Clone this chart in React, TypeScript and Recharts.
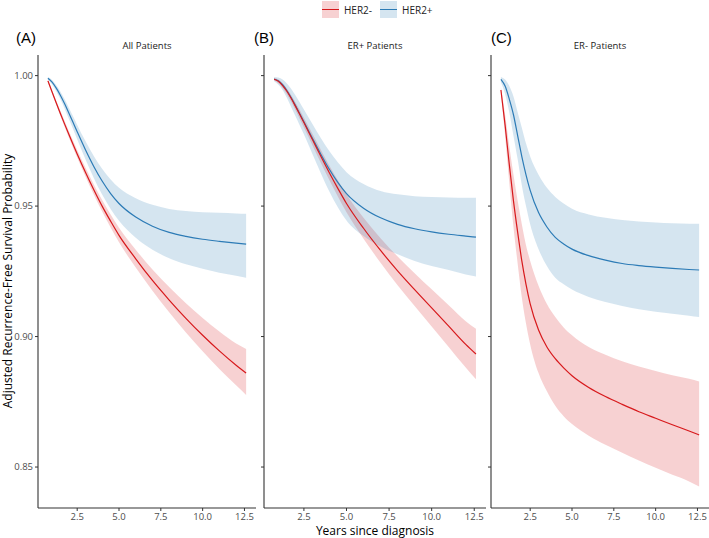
import React from "react";
import {
  ComposedChart,
  Area,
  Line,
  XAxis,
  YAxis,
} from "recharts";

// years since diagnosis where the curves are read
const years = [0.75, 1, 1.25, 1.5, 1.75, 2, 2.25, 2.5, 3, 3.5, 4, 4.5, 5, 6, 7, 8, 9, 10, 11, 12, 12.6];

// (A) All Patients
const allNeg = [0.998, 0.9937, 0.9895, 0.9854, 0.9814, 0.9775, 0.9737, 0.97, 0.9629, 0.9562, 0.9499, 0.9442, 0.9388, 0.9298, 0.9215, 0.914, 0.907, 0.9005, 0.8945, 0.889, 0.886];
const allNegHi = [0.9985, 0.9943, 0.9903, 0.9864, 0.9826, 0.9788, 0.9751, 0.9715, 0.9647, 0.9582, 0.9522, 0.9468, 0.9417, 0.9333, 0.9257, 0.919, 0.9128, 0.9071, 0.9019, 0.8973, 0.8952];
const allNegLo = [0.9975, 0.9931, 0.9888, 0.9845, 0.9803, 0.9763, 0.9724, 0.9686, 0.9612, 0.9543, 0.9478, 0.9418, 0.9361, 0.9265, 0.9176, 0.9093, 0.9016, 0.8944, 0.8876, 0.8813, 0.8776];
const allPos = [0.999, 0.9975, 0.9952, 0.9924, 0.9892, 0.9857, 0.9821, 0.9785, 0.9715, 0.9651, 0.9595, 0.9548, 0.951, 0.9458, 0.9423, 0.9399, 0.9384, 0.9373, 0.9365, 0.9358, 0.9354];
const allPosHi = [0.9995, 0.9983, 0.9963, 0.9938, 0.9909, 0.9877, 0.9844, 0.9811, 0.9748, 0.9691, 0.9642, 0.9602, 0.957, 0.953, 0.9505, 0.9489, 0.9481, 0.9476, 0.9474, 0.9472, 0.9471];
const allPosLo = [0.9985, 0.9966, 0.994, 0.9909, 0.9873, 0.9835, 0.9796, 0.9756, 0.9679, 0.9607, 0.9543, 0.9489, 0.9444, 0.9379, 0.9333, 0.93, 0.9277, 0.926, 0.9245, 0.9233, 0.9225];

// (B) ER+ Patients
const erpNeg = [0.9986, 0.9978, 0.9962, 0.994, 0.9913, 0.9883, 0.9852, 0.982, 0.9755, 0.969, 0.9627, 0.9567, 0.951, 0.9415, 0.933, 0.9252, 0.918, 0.911, 0.904, 0.897, 0.8933];
const erpNegHi = [0.9991, 0.9985, 0.9971, 0.9951, 0.9926, 0.9898, 0.9869, 0.9839, 0.9777, 0.9715, 0.9655, 0.9598, 0.9544, 0.9455, 0.9377, 0.9307, 0.9243, 0.9181, 0.912, 0.9059, 0.903];
const erpNegLo = [0.9981, 0.9971, 0.9953, 0.9929, 0.99, 0.9868, 0.9835, 0.9801, 0.9733, 0.9665, 0.9599, 0.9536, 0.9476, 0.9375, 0.9283, 0.9197, 0.9117, 0.9039, 0.896, 0.8881, 0.8836];
const erpPos = [0.9987, 0.998, 0.9965, 0.9943, 0.9916, 0.9886, 0.9855, 0.9823, 0.976, 0.9698, 0.964, 0.959, 0.9548, 0.9492, 0.9455, 0.943, 0.9413, 0.9401, 0.9392, 0.9385, 0.9381];
const erpPosHi = [0.9995, 0.9993, 0.9985, 0.997, 0.995, 0.9925, 0.9898, 0.987, 0.9815, 0.976, 0.971, 0.9667, 0.963, 0.9585, 0.9558, 0.9545, 0.9538, 0.9535, 0.9533, 0.9532, 0.9532];
const erpPosLo = [0.9978, 0.9965, 0.9945, 0.9915, 0.988, 0.9845, 0.981, 0.9775, 0.97, 0.9625, 0.9555, 0.9495, 0.9445, 0.9385, 0.9345, 0.9315, 0.929, 0.927, 0.9255, 0.9238, 0.923];

// (C) ER- Patients
const ernNeg = [0.9945, 0.981, 0.966, 0.952, 0.94, 0.929, 0.92, 0.9125, 0.9025, 0.896, 0.8915, 0.888, 0.885, 0.8805, 0.877, 0.874, 0.8712, 0.8687, 0.8662, 0.8638, 0.8623];
const ernNegHi = [0.9955, 0.985, 0.973, 0.962, 0.952, 0.943, 0.935, 0.929, 0.9195, 0.9125, 0.9075, 0.9035, 0.9005, 0.896, 0.893, 0.8905, 0.8885, 0.8868, 0.8852, 0.8838, 0.8828];
const ernNegLo = [0.9935, 0.977, 0.959, 0.942, 0.928, 0.915, 0.905, 0.897, 0.886, 0.879, 0.8735, 0.8695, 0.8665, 0.862, 0.8585, 0.8555, 0.8525, 0.8497, 0.847, 0.8445, 0.8425];
const ernPos = [0.9986, 0.996, 0.991, 0.985, 0.977, 0.969, 0.962, 0.956, 0.9475, 0.942, 0.938, 0.9355, 0.9335, 0.931, 0.9293, 0.928, 0.9272, 0.9266, 0.9261, 0.9257, 0.9255];
const ernPosHi = [0.9995, 0.9985, 0.996, 0.992, 0.986, 0.98, 0.974, 0.969, 0.962, 0.957, 0.9535, 0.951, 0.949, 0.9468, 0.9455, 0.9447, 0.9441, 0.9437, 0.9434, 0.9432, 0.9432];
const ernPosLo = [0.9975, 0.993, 0.986, 0.977, 0.968, 0.958, 0.95, 0.943, 0.9335, 0.927, 0.9225, 0.92, 0.918, 0.9152, 0.9132, 0.9117, 0.9105, 0.9095, 0.9087, 0.908, 0.9075];

const xTicks = [2.5, 5, 7.5, 10, 12.5];
const yTicks = [0.85, 0.9, 0.95, 1.0];

const RED = "#D7191C";
const BLUE = "#2C7BB6";
const FONT = "'Open Sans', 'Noto Sans', sans-serif";

const build = (neg: number[], negHi: number[], negLo: number[], pos: number[], posHi: number[], posLo: number[]) =>
  years.map((t, i) => ({
    t,
    neg: neg[i],
    negBand: [negLo[i], negHi[i]],
    pos: pos[i],
    posBand: [posLo[i], posHi[i]],
  }));

const panels = [
  { letter: "(A)", title: "All Patients", data: build(allNeg, allNegHi, allNegLo, allPos, allPosHi, allPosLo), left: 0, width: 256, labels: true, letterX: 16 },
  { letter: "(B)", title: "ER+ Patients", data: build(erpNeg, erpNegHi, erpNegLo, erpPos, erpPosHi, erpPosLo), left: 226, width: 260, labels: false, letterX: 254 },
  { letter: "(C)", title: "ER- Patients", data: build(ernNeg, ernNegHi, ernNegLo, ernPos, ernPosHi, ernPosLo), left: 453, width: 256, labels: false, letterX: 491 },
];

const tickStyle = { fill: "#4D4D4D", fontSize: 9.5, fontFamily: FONT };

const App: React.FC = () => {
  return (
    <div style={{ position: "absolute", left: 0, top: 0, width: 709, height: 538, background: "#fff", fontFamily: FONT }}>
      {/* legend */}
      <div style={{ position: "absolute", left: 322, top: 1, display: "flex", alignItems: "center", fontSize: 10, color: "#222" }}>
        {[{ name: "HER2-", c: RED }, { name: "HER2+", c: BLUE }].map((s) => (
          <div key={s.name} style={{ display: "flex", alignItems: "center", marginRight: 8 }}>
            <div style={{ width: 17, height: 17, background: s.c, opacity: 0.2 }} />
            <div style={{ width: 17, height: 1.3, background: s.c, marginLeft: -17 }} />
            <span style={{ marginLeft: 5 }}>{s.name}</span>
          </div>
        ))}
      </div>

      {panels.map((p) => (
        <React.Fragment key={p.letter}>
          <div style={{ position: "absolute", left: p.letterX, top: 29, fontSize: 15, fontFamily: "'Liberation Sans', Arial, sans-serif", color: "#000" }}>
            {p.letter}
          </div>
          <div style={{ position: "absolute", left: p.left + 38, width: p.width - 38, top: 39, textAlign: "center", fontSize: 9.5, color: "#222" }}>
            {p.title}
          </div>
          <div style={{ position: "absolute", left: p.left, top: 0 }}>
            <ComposedChart width={p.width} height={538} data={p.data} margin={{ top: 55, right: 0, bottom: 0, left: 0 }}>
              <XAxis
                dataKey="t"
                type="number"
                domain={[0.157, 13.19]}
                ticks={xTicks}
                tickFormatter={(v: number) => v.toFixed(1)}
                height={30}
                tick={tickStyle}
                tickLine={{ stroke: "#333" }}
                tickSize={3}
                axisLine={{ stroke: "#333", strokeWidth: 1.1 }}
                allowDataOverflow
              />
              <YAxis
                type="number"
                domain={[0.8343, 1.0079]}
                ticks={yTicks}
                tickFormatter={(v: number) => (p.labels ? v.toFixed(2) : "")}
                width={38}
                tick={tickStyle}
                tickLine={{ stroke: "#333" }}
                tickSize={3}
                axisLine={{ stroke: "#333", strokeWidth: 1.1 }}
                allowDataOverflow
              />
              <Area type="monotone" dataKey="negBand" fill={RED} fillOpacity={0.2} stroke="none" isAnimationActive={false} />
              <Area type="monotone" dataKey="posBand" fill={BLUE} fillOpacity={0.2} stroke="none" isAnimationActive={false} />
              <Line type="monotone" dataKey="pos" stroke={BLUE} strokeWidth={1.2} dot={false} isAnimationActive={false} />
              <Line type="monotone" dataKey="neg" stroke={RED} strokeWidth={1.2} dot={false} isAnimationActive={false} />
            </ComposedChart>
          </div>
        </React.Fragment>
      ))}

      {/* axis titles */}
      <div style={{ position: "absolute", left: 264, width: 222, top: 522, textAlign: "center", fontSize: 12, color: "#000" }}>
        Years since diagnosis
      </div>
      <div
        style={{
          position: "absolute",
          left: 7,
          top: 281,
          transform: "translate(-50%, -50%) rotate(-90deg)",
          whiteSpace: "nowrap",
          fontSize: 12,
          color: "#000",
        }}
      >
        Adjusted Recurrence-Free Survival Probability
      </div>
    </div>
  );
};

export default App;
